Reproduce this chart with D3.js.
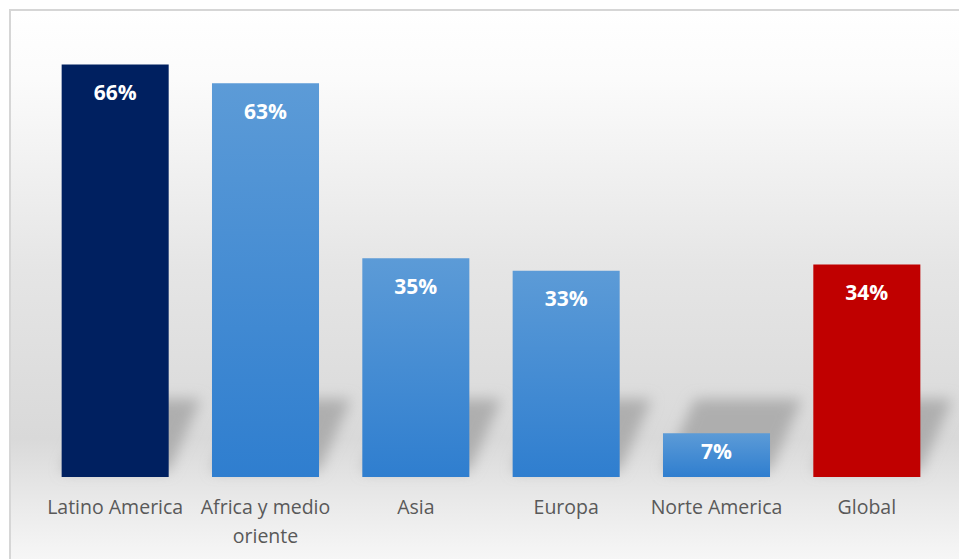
<!DOCTYPE html>
<html>
<head>
<meta charset="utf-8">
<script src="https://cdn.jsdelivr.net/npm/d3@7"></script>
<style>
  body { margin: 0; background: #ffffff; overflow: hidden; }
  #main { width: 959px; height: 559px; }
</style>
</head>
<body>
<div id="main"></div>
<script>
const width = 959;
const height = 559;

// chart data
const categories = ['Latino America', 'Africa y medio oriente', 'Asia', 'Europa', 'Norte America', 'Global'];
const values = [66, 63, 35, 33, 7, 34];
const barKinds = ['dark', 'blue', 'blue', 'blue', 'blue', 'red'];

const data = categories.map((c, i) => ({ name: c, value: values[i], kind: barKinds[i] }));

const svg = d3.select('#main').append('svg')
  .attr('width', width)
  .attr('height', height);

const defs = svg.append('defs');

const bg = defs.append('linearGradient')
  .attr('id', 'bg-grad')
  .attr('x1', 0).attr('y1', 0).attr('x2', 0).attr('y2', 1);
[[0, '#ffffff'], [0.12, '#fbfbfb'], [0.45, '#e5e5e5'], [0.74, '#d9d9d9'], [0.84, '#e8e8e8'], [0.93, '#f4f4f4'], [1, '#fbfbfb']]
  .forEach(([o, c]) => bg.append('stop').attr('offset', o).attr('stop-color', c));

const blueGrad = defs.append('linearGradient')
  .attr('id', 'blue-grad')
  .attr('x1', 0).attr('y1', 0).attr('x2', 0).attr('y2', 1);
blueGrad.append('stop').attr('offset', 0).attr('stop-color', '#5c9bd7');
blueGrad.append('stop').attr('offset', 1).attr('stop-color', '#2f7ecf');

defs.append('filter')
  .attr('id', 'shadow-blur')
  .attr('x', '-50%').attr('y', '-50%').attr('width', '200%').attr('height', '200%')
  .append('feGaussianBlur')
  .attr('stdDeviation', 7);

/* chart frame with the soft gray background */
svg.append('rect')
  .attr('x', 10)
  .attr('y', 10)
  .attr('width', width + 20)
  .attr('height', height + 20)
  .style('fill', 'url(#bg-grad)')
  .style('stroke', '#d6d6d6')
  .style('stroke-width', 2);

const x = d3.scaleBand()
  .domain(categories)
  .range([40, 942])
  .paddingInner(0.288)
  .paddingOuter(0.144);

const y = d3.scaleLinear()
  .domain([0, 70])
  .range([477, 39.5]);

const fills = { dark: '#002060', blue: 'url(#blue-grad)', red: '#c00000' };

/* perspective shadows behind the bars */
const shadowH = 72;
const shadowDx = 32;
svg.append('g')
  .attr('filter', 'url(#shadow-blur)')
  .selectAll('path')
  .data(data)
  .enter()
  .append('path')
  .attr('d', (d) => {
    const x0 = x(d.name);
    const x1 = x0 + x.bandwidth();
    const b = y(0) - 6;
    return `M${x0},${b}L${x1},${b}L${x1 + shadowDx},${b - shadowH}L${x0 + shadowDx},${b - shadowH}Z`;
  })
  .style('fill', '#a4a4a4')
  .style('opacity', 0.8);

svg.selectAll('rect.bar')
  .data(data)
  .enter()
  .append('rect')
  .attr('class', 'bar')
  .attr('x', (d) => x(d.name))
  .attr('y', (d) => y(d.value))
  .attr('width', x.bandwidth())
  .attr('height', (d) => y(0) - y(d.value))
  .style('fill', (d) => fills[d.kind]);

svg.selectAll('text.value')
  .data(data)
  .enter()
  .append('text')
  .attr('class', 'value')
  .attr('x', (d) => x(d.name) + x.bandwidth() / 2)
  .attr('y', (d) => {
    const h = y(0) - y(d.value);
    return y(d.value) + Math.min(28, h / 2 - 4);
  })
  .attr('dy', '0.36em')
  .attr('text-anchor', 'middle')
  .style('font-family', '"Open Sans", Lato, sans-serif')
  .style('font-weight', 'bold')
  .style('font-size', '21px')
  .style('fill', '#ffffff')
  .text((d) => `${d.value}%`);

/* category axis without line or ticks */
const xAxis = svg.append('g')
  .attr('transform', `translate(0,${y(0)})`)
  .call(d3.axisBottom(x).tickSize(0).tickPadding(0));

xAxis.select('.domain').remove();

function wrap(sel, maxWidth) {
  sel.each(function () {
    const text = d3.select(this).attr('dy', null);
    const words = text.text().split(/\s+/);
    text.text(null);
    let line = [];
    let lineNo = 0;
    let tspan = text.append('tspan').attr('x', 0).attr('y', 37);
    words.forEach((w) => {
      line.push(w);
      tspan.text(line.join(' '));
      if (tspan.node().getComputedTextLength() > maxWidth && line.length > 1) {
        line.pop();
        tspan.text(line.join(' '));
        line = [w];
        lineNo += 1;
        tspan = text.append('tspan').attr('x', 0).attr('y', 37 + lineNo * 29).text(w);
      }
    });
  });
}

xAxis.selectAll('text')
  .style('font-family', '"Open Sans", Lato, sans-serif')
  .style('font-size', '19.5px')
  .style('fill', '#595959')
  .call(wrap, x.step() - 2);
</script>
</body>
</html>
